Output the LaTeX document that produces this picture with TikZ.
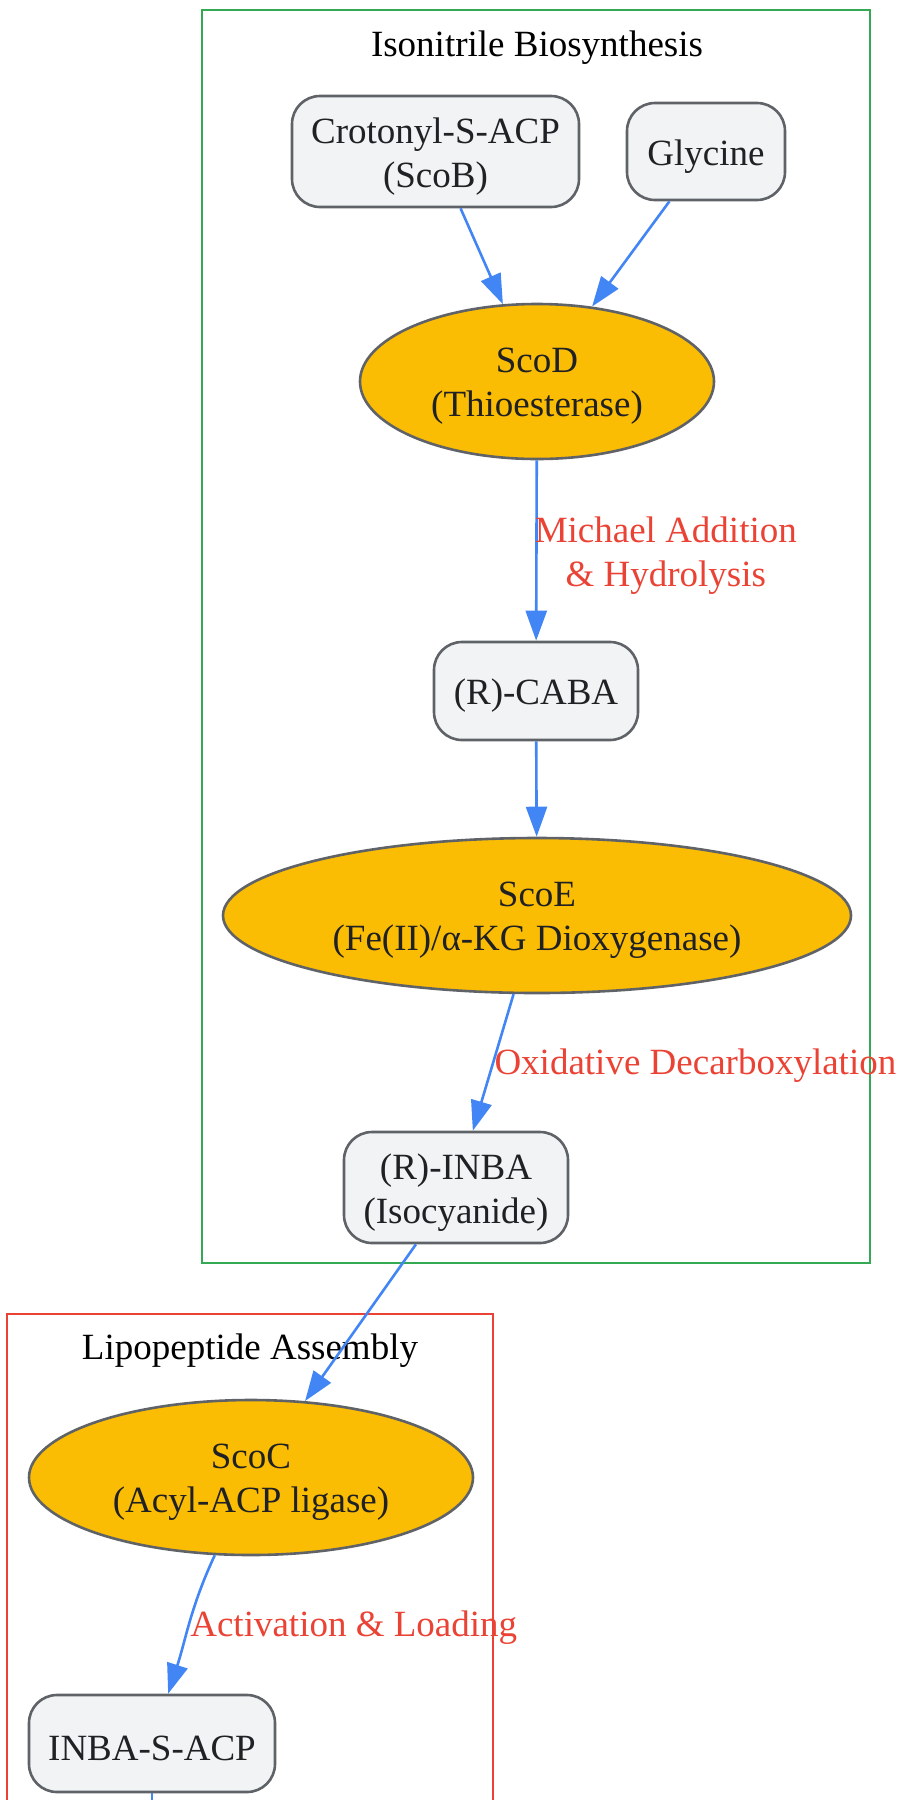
\documentclass[tikz,border=0pt]{standalone}
\usepackage{fontspec}
\setmainfont{Liberation Serif}
\usetikzlibrary{shapes.geometric,arrows.meta}
\definecolor{boxfill}{HTML}{F1F3F4}
\definecolor{boxline}{HTML}{5F6368}
\definecolor{enzfill}{HTML}{FBBC04}
\definecolor{flowblue}{HTML}{4285F4}
\definecolor{lblred}{HTML}{EA4335}
\definecolor{txtdark}{HTML}{202124}
\definecolor{isogreen}{HTML}{34A853}
\newcommand{\Compound}[3][]{\node[compound, #1] (#2) {}; \node[nodetext] (#2-txt) at ([yshift=-5pt]#2.center) {#3};}
\newcommand{\Enzyme}[3][]{\node[enzyme, #1] (#2) {}; \node[nodetext] (#2-txt) at ([yshift=-5pt]#2.center) {#3};}

\begin{document}
\begin{tikzpicture}[x=1pt, y=-1pt,
	every node/.style={font=\fontsize{37}{44}\selectfont},
	compound/.style={draw=boxline, fill=boxfill, rounded corners=28pt, line width=2.6pt, inner sep=0pt},
	enzyme/.style={ellipse, draw=boxline, fill=enzfill, line width=2.6pt, minimum height=155pt, inner sep=0pt},
	nodetext/.style={text=txtdark, align=center, inner sep=0pt},
	flow/.style={draw=flowblue, line width=2.6pt, -{Triangle[length=30pt,width=21pt]}},
	lbl/.style={text=lblred, align=center, inner sep=0pt},
	cluster/.style={line width=2.6pt}]
\useasboundingbox (0,0) rectangle (900,1800);

	% clusters
	\draw[cluster, isogreen] (202,10) rectangle (870,1263);
	\node (isotitle) at (537,48) {Isonitrile Biosynthesis};
	\draw[cluster, lblred] (7,1314) rectangle (493,1840);
	\node (liptitle) at (250,1351) {Lipopeptide Assembly};

	\Compound[at={(435.5,151.5)}, minimum width=287pt, minimum height=111pt]{crot}{Crotonyl-S-ACP\\(ScoB)}
	\Compound[at={(706,151.5)}, minimum width=158pt, minimum height=97pt]{gly}{Glycine}
	\Enzyme[at={(537,381.5)}, minimum width=354pt]{scod}{ScoD\\(Thioesterase)}
	\Compound[at={(536,691)}, minimum width=204pt, minimum height=98pt]{caba}{(R)-CABA}
	\Enzyme[at={(537,915.5)}, minimum width=628pt]{scoe}{ScoE\\(Fe(II)/α-KG Dioxygenase)}
	\Compound[at={(456,1187.5)}, minimum width=224pt, minimum height=111pt]{inba}{(R)-INBA\\(Isocyanide)}

	\Enzyme[at={(251,1477.5)}, minimum width=444pt]{scoc}{ScoC\\(Acyl-ACP ligase)}
	\Compound[at={(152,1743.5)}, minimum width=246pt, minimum height=97pt]{inbasacp}{INBA-S-ACP}
	\coordinate (offpage) at (152,1850);

	\draw[flow] (crot) -- (scod);
	\draw[flow] (gly) -- (scod);
	\draw[flow] (scod) -- node[lbl, anchor=west, xshift=-3pt, yshift=-5pt] {Michael Addition\\\& Hydrolysis} (caba);
	\draw[flow] (caba) -- (scoe);
	\draw[flow] (scoe) -- node[lbl, anchor=west, yshift=-3pt] {Oxidative Decarboxylation} (inba);
	\draw[flow] (inba) -- (scoc);
	\draw[flow] (scoc) to[out=-115, in=72] node[lbl, anchor=west, yshift=-4pt] {Activation \& Loading} (inbasacp);
	\draw[flow] (inbasacp) -- (offpage);

\end{tikzpicture}
\end{document}
